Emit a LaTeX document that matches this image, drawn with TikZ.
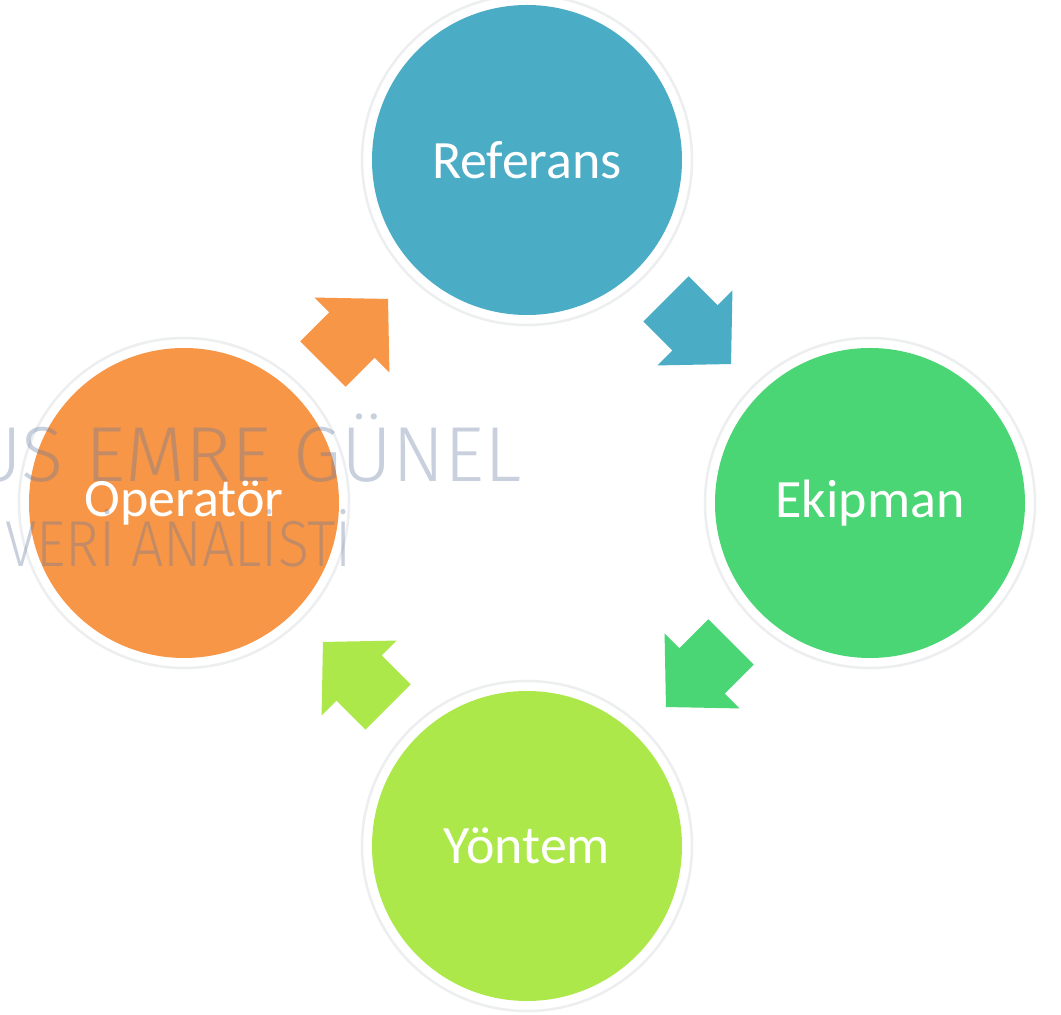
\documentclass[tikz,border=0pt]{standalone}
\usepackage{fontspec}
\setmainfont{Carlito}
\newfontfamily\markfont{Fira Sans Light}
\usetikzlibrary{calc}

\definecolor{cblue}{RGB}{75,172,198}
\definecolor{cgreen}{RGB}{74,214,116}
\definecolor{clime}{RGB}{173,232,74}
\definecolor{corange}{RGB}{247,150,70}
\definecolor{cmark}{RGB}{100,120,160}
\definecolor{cring}{RGB}{236,238,240}

\tikzset{
  bubble/.style={circle, minimum size=310pt, inner sep=0pt, draw=none,
    text=white, font=\fontsize{54}{60}\selectfont},
  ring/.style={draw=cring, line width=2.5pt},
  pics/cyclearrow/.style={code={
    \fill[#1] (-46,-32) -- (-5,-32) -- (-5,-53) -- (46,0) -- (-5,53)
      -- (-5,32) -- (-46,32) -- cycle;}},
  watermark/.style={inner sep=0pt, text=cmark, text opacity=0.35}
}

\begin{document}
\begin{tikzpicture}[x=1pt,y=1pt]
\useasboundingbox[fill=white] (0,0) rectangle (1061,1015);

% outer rings
\foreach \p in {(527,855),(870,512),(527,169),(184,512)}
  \draw[ring] \p circle (165);

% the four stages
\node[bubble, fill=cblue]   (ref) at (527,855) {Referans};
\node[bubble, fill=cgreen]  (eki) at (870,512) {Ekipman};
\node[bubble, fill=clime]   (yon) at (527,169) {Yöntem};
\node[bubble, fill=corange] (ope) at (184,512) {Operatör};

% block arrows between consecutive stages
\path ($(ope)!0.5!(ref)$) pic[rotate=45]   {cyclearrow=corange};
\path ($(ref)!0.5!(eki)$) pic[rotate=-45]  {cyclearrow=cblue};
\path ($(eki)!0.5!(yon)$) pic[rotate=-135] {cyclearrow=cgreen};
\path ($(yon)!0.5!(ope)$) pic[rotate=135]  {cyclearrow=clime};

% watermark
\node[watermark, anchor=base east, font=\markfont\fontsize{78}{80}\selectfont]
  (wm1) at (522,533) {US EMRE GÜNEL};
\node[watermark, anchor=base west, xscale=0.88,
  font=\markfont\fontsize{65}{68}\selectfont]
  (wm2) at (5,448) {VERİ ANALİSTİ};
\end{tikzpicture}
\end{document}
